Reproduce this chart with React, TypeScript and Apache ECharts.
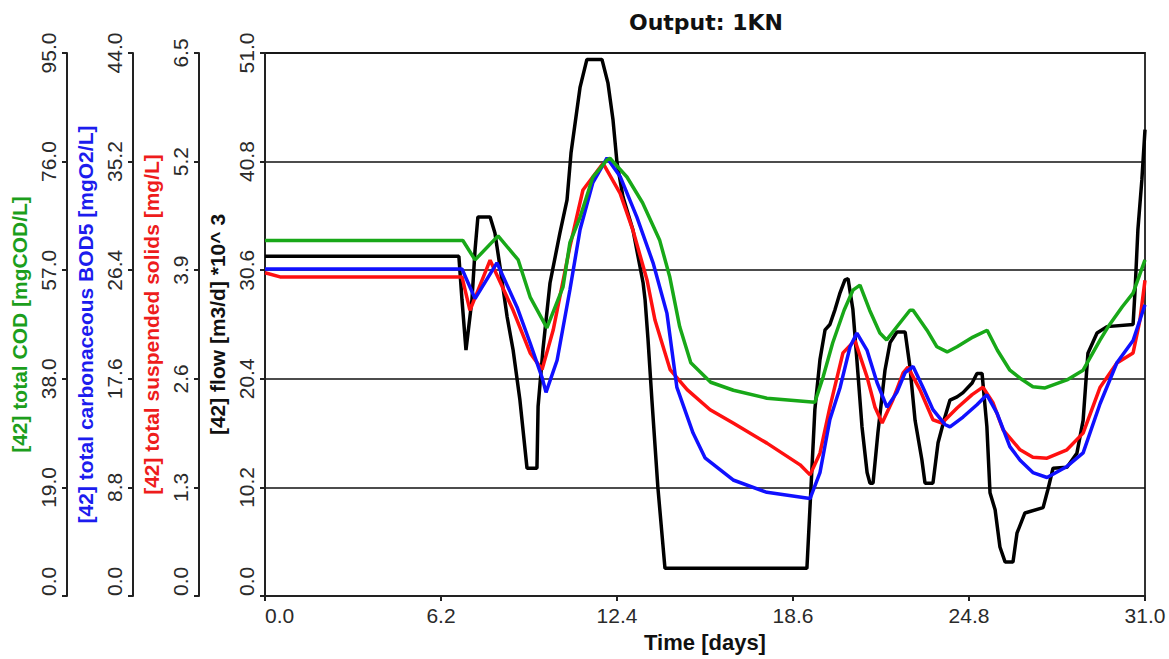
import React, { useEffect, useRef } from "react";
import * as echarts from "echarts";

const chartTitle = "Output: 1KN";
const xName = "Time [days]";
const codName = "[42] total COD [mgCOD/L]";
const bodName = "[42] total carbonaceous BOD5 [mgO2/L]";
const tssName = "[42] total suspended solids [mg/L]";
const flowName = "[42] flow [m3/d] *10^ 3";

// axis ranges (min 0, 5 intervals)
const codMax = 95; const codStep = 19;
const bodMax = 44; const bodStep = 8.8;
const tssMax = 6.5; const tssStep = 1.3;
const flowMax = 51; const flowStep = 10.2;
const timeMax = 31; const timeStep = 6.2;

// flow (black)
const flowTime = [0, 6.83, 6.94, 7.08, 7.29, 7.40, 7.50, 7.93, 8.10, 8.28, 8.53, 8.74, 8.98, 9.23, 9.58, 9.62, 9.79, 10.04, 10.39, 10.64, 10.78, 11.10, 11.34, 11.87, 12.08, 12.26, 12.40, 12.61, 12.96, 13.32, 13.39, 13.49, 13.63, 13.84, 14.09, 19.09, 19.20, 19.37, 19.55, 19.73, 19.90, 20.08, 20.26, 20.43, 20.54, 20.71, 20.85, 21.03, 21.21, 21.31, 21.42, 21.59, 21.84, 22.02, 22.26, 22.55, 22.72, 22.90, 23.14, 23.25, 23.53, 23.71, 23.95, 24.13, 24.38, 24.59, 24.91, 25.08, 25.26, 25.43, 25.54, 25.72, 25.89, 26.07, 26.35, 26.49, 26.77, 27.41, 27.58, 27.76, 28.25, 28.60, 28.82, 28.99, 29.31, 29.66, 30.58, 30.65, 30.75, 30.89, 31.0];
const flowValues = [31.9, 31.9, 27.8, 23.1, 27.8, 32.5, 35.6, 35.6, 34.1, 30.9, 26.2, 23.1, 18.4, 12.0, 12.0, 17.8, 23.1, 29.4, 34.1, 37.2, 41.6, 47.8, 50.4, 50.4, 48.2, 44.7, 40.7, 37.5, 34.4, 29.4, 27.8, 24.2, 18.4, 10.2, 2.6, 2.6, 8.4, 17.5, 22.2, 25.0, 25.5, 26.9, 28.5, 29.7, 29.8, 26.9, 22.2, 15.9, 11.6, 10.6, 10.6, 15.3, 21.2, 23.8, 24.8, 24.8, 21.5, 16.5, 12.8, 10.6, 10.6, 14.4, 16.8, 18.4, 18.7, 19.1, 20.0, 20.9, 20.9, 15.9, 9.7, 8.1, 4.6, 3.2, 3.2, 5.9, 7.8, 8.3, 10.0, 12.0, 12.1, 13.4, 16.5, 22.8, 24.7, 25.3, 25.5, 28.7, 34.4, 39.1, 43.8];

// total suspended solids (red)
const tssTime = [0, 0.53, 6.94, 7.22, 7.93, 8.74, 9.34, 9.76, 10.15, 10.74, 11.20, 11.91, 12.51, 12.96, 13.46, 13.74, 14.27, 14.87, 15.68, 16.49, 17.68, 18.85, 19.20, 19.55, 19.90, 20.36, 20.78, 21.21, 21.49, 21.74, 22.12, 22.48, 22.65, 23.07, 23.53, 23.85, 24.38, 24.91, 25.29, 25.65, 26.0, 26.60, 27.05, 27.55, 28.25, 28.82, 29.42, 30.01, 30.58, 30.82, 31.0];
const tssValues = [3.87, 3.82, 3.82, 3.42, 4.02, 3.42, 2.91, 2.71, 3.18, 4.18, 4.86, 5.18, 4.82, 4.38, 3.78, 3.30, 2.71, 2.47, 2.23, 2.07, 1.83, 1.57, 1.45, 1.71, 2.26, 2.91, 3.06, 2.62, 2.26, 2.07, 2.35, 2.67, 2.74, 2.47, 2.11, 2.07, 2.25, 2.41, 2.50, 2.31, 1.99, 1.75, 1.66, 1.65, 1.75, 1.95, 2.50, 2.79, 2.91, 3.30, 3.78];

// total carbonaceous BOD5 (blue)
const bodTime = [0, 6.94, 7.40, 8.17, 8.88, 9.34, 9.76, 9.90, 10.29, 10.74, 11.10, 11.55, 12.05, 12.51, 13.10, 13.67, 14.16, 14.51, 15.08, 15.50, 16.49, 17.68, 19.20, 19.55, 19.90, 20.26, 20.61, 20.85, 21.21, 21.56, 21.91, 22.26, 22.55, 22.83, 23.18, 23.53, 23.95, 24.13, 24.59, 25.08, 25.43, 25.79, 26.24, 26.60, 27.05, 27.55, 28.25, 28.82, 29.42, 30.01, 30.58, 31.0];
const bodValues = [26.5, 26.5, 24.1, 27.0, 23.4, 20.5, 17.7, 16.5, 19.1, 24.8, 29.7, 33.5, 35.5, 34.0, 30.7, 27.0, 22.9, 16.9, 13.2, 11.2, 9.4, 8.4, 7.9, 10.0, 14.3, 16.9, 20.2, 21.3, 19.9, 17.3, 15.3, 16.5, 18.1, 18.6, 16.9, 15.1, 13.9, 13.7, 14.5, 15.5, 16.3, 14.8, 12.1, 11.0, 10.0, 9.6, 10.5, 11.6, 15.6, 18.9, 20.7, 23.6];

// total COD (green)
const codTime = [0, 6.97, 7.40, 8.21, 8.92, 9.34, 9.93, 10.50, 10.74, 11.10, 11.55, 12.05, 12.15, 12.75, 13.30, 13.90, 14.26, 14.61, 15.0, 15.70, 16.50, 17.68, 19.37, 19.66, 20.0, 20.40, 20.71, 20.96, 21.30, 21.66, 21.90, 22.26, 22.72, 22.83, 23.32, 23.67, 24.03, 24.38, 24.94, 25.44, 25.80, 26.24, 26.60, 27.05, 27.48, 28.25, 28.82, 29.42, 29.70, 30.20, 30.58, 31.0];
const codValues = [62.2, 62.2, 58.8, 63.0, 58.8, 52.3, 46.9, 54.1, 61.8, 66.3, 73.3, 76.3, 76.6, 73.3, 68.8, 62.3, 55.8, 47.1, 40.8, 37.4, 36.0, 34.6, 33.9, 38.3, 44.3, 50.0, 53.5, 54.4, 50.0, 46.0, 44.8, 47.1, 50.0, 50.0, 46.5, 43.6, 42.7, 43.6, 45.3, 46.5, 43.0, 39.5, 38.1, 36.6, 36.4, 37.8, 39.5, 44.8, 47.1, 50.6, 53.0, 58.8];

const zip = (t: number[], v: number[]) => t.map((x, i) => [x, v[i]]);

const FONT = "'Liberation Sans', Arial, sans-serif";
const TICK_COLOR = "#2a2a2a";

function yAxis(max: number, step: number, offset: number, name: string, nameColor: string, grid: boolean) {
  return {
    type: "value",
    position: "left",
    offset,
    min: 0,
    max,
    interval: step,
    name,
    nameLocation: "middle",
    nameGap: 34,
    nameTextStyle: { color: nameColor, fontFamily: FONT, fontWeight: "bold", fontSize: 21 },
    axisLine: { show: true, onZero: false, lineStyle: { color: "#222", width: 2 } },
    axisTick: { show: true, inside: false, length: 5, lineStyle: { color: "#222", width: 2 } },
    axisLabel: {
      rotate: 90,
      margin: 8,
      alignMinLabel: "left",
      color: TICK_COLOR,
      fontFamily: FONT,
      fontSize: 21,
      formatter: (v: number) => v.toFixed(1),
    },
    splitLine: { show: grid, lineStyle: { color: "#111", width: 1.5 } },
  };
}

export default function App() {
  const ref = useRef<HTMLDivElement>(null);
  useEffect(() => {
    if (!ref.current) return;
    const chart = echarts.init(ref.current, undefined, { renderer: "svg" });
    const lineSeries = (name: string, data: number[][], yIdx: number, color: string) => ({
      name,
      type: "line",
      yAxisIndex: yIdx,
      data,
      showSymbol: false,
      symbol: "none",
      lineStyle: { color, width: 3.5 },
      itemStyle: { color },
    });
    chart.setOption({
      animation: false,
      backgroundColor: "#ffffff",
      grid: { left: 265, right: 24, top: 53, bottom: 63, show: true, borderColor: "#333", borderWidth: 2, backgroundColor: "transparent" },
      graphic: [
        {
          type: "text",
          x: 706,
          y: 22,
          style: {
            text: chartTitle,
            textAlign: "center",
            textVerticalAlign: "middle",
            fontFamily: "'DejaVu Sans', Verdana, sans-serif",
            fontWeight: "bold",
            fontSize: 22,
            fill: "#111",
          },
        },
      ],
      xAxis: {
        type: "value",
        min: 0,
        max: timeMax,
        interval: timeStep,
        name: xName,
        nameLocation: "middle",
        nameGap: 35,
        nameTextStyle: { color: "#111", fontFamily: FONT, fontWeight: "bold", fontSize: 22 },
        axisLine: { show: true, onZero: false, lineStyle: { color: "#222", width: 2 } },
        axisTick: { show: true, length: 5, lineStyle: { color: "#222", width: 2 } },
        axisLabel: {
          margin: 9,
          alignMinLabel: "left",
          color: TICK_COLOR,
          fontFamily: FONT,
          fontSize: 21,
          formatter: (v: number) => v.toFixed(1),
        },
        splitLine: { show: false },
      },
      yAxis: [
        yAxis(flowMax, flowStep, 0, flowName, "#111", true),
        yAxis(tssMax, tssStep, 66, tssName, "#ee1c1c", false),
        yAxis(bodMax, bodStep, 132, bodName, "#1c1cee", false),
        yAxis(codMax, codStep, 198, codName, "#1c9e1c", false),
      ],
      series: [
        lineSeries("flow", zip(flowTime, flowValues), 0, "#000000"),
        lineSeries("TSS", zip(tssTime, tssValues), 1, "#ff1010"),
        lineSeries("BOD5", zip(bodTime, bodValues), 2, "#1010ff"),
        lineSeries("COD", zip(codTime, codValues), 3, "#18a818"),
      ],
    });
    return () => chart.dispose();
  }, []);
  return <div ref={ref} style={{ position: "fixed", left: 0, top: 0, width: 1169, height: 659 }} />;
}
